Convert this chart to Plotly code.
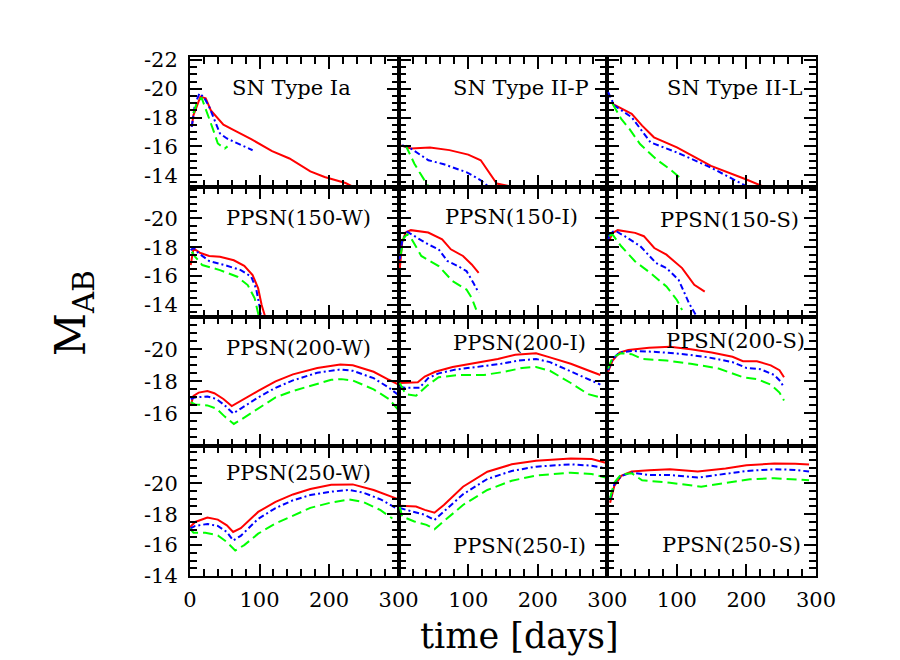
import plotly.graph_objects as go
from plotly.subplots import make_subplots

# ---- light curves: days since explosion, AB magnitude ----
# SN Type Ia
ia_red_t = [2.5, 5, 15, 22.6, 30, 38, 48, 63, 88, 118, 143, 173, 193.5, 223.6, 238]
ia_red_m = [-17.36, -18.17, -19.45, -19.33, -18.5, -18.06, -17.5, -17.13, -16.5, -15.67, -15.16, -14.27, -13.88, -13.46, -13.11]
ia_blue_t = [2.5, 7, 13.6, 20, 27.6, 35, 43, 53, 68, 90]
ia_blue_m = [-17.36, -18.9, -19.68, -19.4, -18.75, -17.8, -16.9, -16.55, -16.2, -15.73]
ia_green_t = [5, 9, 16.6, 25, 33, 40, 50, 54]
ia_green_m = [-18.3, -18.9, -19.38, -18.3, -17.2, -16.2, -15.85, -16.0]

# SN Type II-P
iip_red_t = [2.5, 17.6, 45, 73, 100, 118, 141, 163]
iip_red_m = [-16.07, -15.85, -15.92, -15.74, -15.43, -15.04, -13.42, -13.2]
iip_blue_t = [5, 17.6, 42.7, 65, 98, 118, 130]
iip_blue_m = [-16.08, -15.85, -15.04, -14.76, -14.2, -13.65, -13.18]
iip_green_t = [10, 22.6, 30, 40, 43]
iip_green_m = [-16.08, -14.8, -14.2, -13.5, -13.2]

# SN Type II-L
iil_red_t = [7.5, 35, 50, 67, 100, 149, 199, 234]
iil_red_m = [-18.95, -18.26, -17.44, -16.63, -15.93, -14.65, -13.72, -13.02]
iil_blue_t = [1, 10, 35, 62, 100, 149, 199, 208]
iil_blue_m = [-19.77, -18.84, -18.02, -16.28, -15.58, -14.53, -13.26, -13.02]
iil_green_t = [7.5, 20, 32, 47, 70, 90, 107]
iil_green_m = [-18.95, -17.9, -17.2, -16.16, -15.12, -14.42, -13.72]

# PPSN(150-W)
w150_red_t = [1, 5, 15, 27.6, 43, 63, 78, 90, 98, 103, 108]
w150_red_m = [-16.77, -17.92, -17.6, -17.4, -17.34, -17.1, -16.72, -16.07, -15.15, -14.0, -13.2]
w150_blue_t = [1, 5, 12.6, 27.6, 53, 73, 88, 95, 100.5, 102]
w150_blue_m = [-17.8, -17.97, -17.58, -17.05, -16.72, -16.42, -15.96, -15.15, -13.77, -13.2]
w150_green_t = [2.5, 7.5, 17.6, 43, 68, 83, 93, 98, 99]
w150_green_m = [-17.7, -17.34, -16.77, -16.42, -15.96, -15.38, -14.46, -13.53, -13.2]

# PPSN(150-I)
i150_red_t = [1.5, 5, 10, 17.5, 42.5, 62.5, 75, 92.5, 105, 115]
i150_red_m = [-16.47, -18.33, -19.02, -19.19, -19.02, -18.56, -17.86, -17.4, -16.81, -16.23]
i150_blue_t = [1.5, 5, 12.5, 22.5, 42.5, 57.5, 70, 85, 97.5, 107.5, 115]
i150_blue_m = [-17.16, -18.44, -19.07, -18.79, -18.2, -17.86, -17.05, -16.7, -16.35, -15.53, -14.84]
i150_green_t = [2.5, 7.5, 12.5, 17.5, 32.5, 57.5, 77.5, 97.5, 105, 111.5]
i150_green_m = [-17.4, -18.67, -18.9, -18.67, -17.4, -16.7, -15.65, -15.07, -14.49, -13.67]

# PPSN(150-S)
s150_red_t = [2.5, 7.5, 15, 40, 52.5, 67.5, 85, 107.5, 125, 140]
s150_red_m = [-18.42, -19.0, -19.19, -19.0, -18.77, -17.95, -17.49, -16.56, -15.4, -14.93]
s150_blue_t = [1, 5, 12.5, 25, 47.5, 70, 85, 102.5, 117.5, 130]
s150_blue_m = [-18.53, -19.05, -19.12, -18.77, -18.07, -16.91, -16.56, -15.74, -14.12, -13.07]
s150_green_t = [2.5, 7.5, 20, 40, 62.5, 85, 100, 107.5]
s150_green_m = [-18.77, -18.88, -18.07, -17.02, -16.2, -15.28, -14.35, -13.65]

# PPSN(200-W)
w200_red_t = [1, 5, 12.5, 25, 35, 48, 60, 73, 98, 123, 148, 183, 216, 234, 264, 286, 300]
w200_red_m = [-16.5, -17.1, -17.3, -17.4, -17.26, -16.9, -16.46, -16.8, -17.4, -18.0, -18.44, -18.84, -19.06, -19.0, -18.6, -18.1, -17.8]
w200_blue_t = [1, 7.5, 25, 38, 50, 62, 73, 98, 123, 148, 183, 216, 234, 264, 286, 300]
w200_blue_m = [-16.9, -17.0, -17.06, -16.9, -16.5, -16.0, -16.3, -17.0, -17.6, -18.06, -18.54, -18.74, -18.66, -18.2, -17.6, -17.14]
w200_green_t = [1, 7.5, 25, 38, 50, 63, 73, 98, 123, 148, 183, 203, 218, 234, 264, 286, 300]
w200_green_m = [-16.7, -16.56, -16.5, -16.3, -15.8, -15.34, -15.6, -16.3, -17.0, -17.4, -17.86, -18.1, -18.14, -18.06, -17.5, -16.9, -16.2]

# PPSN(200-I)
i200_red_t = [1.5, 27.5, 37.5, 52.5, 77.5, 107.5, 142.5, 167.5, 197.5, 217.5, 247.5, 277.5, 290]
i200_red_m = [-17.9, -17.94, -18.3, -18.6, -18.9, -19.14, -19.4, -19.66, -19.76, -19.5, -19.1, -18.6, -18.4]
i200_blue_t = [1.5, 7.5, 30, 42.5, 57.5, 82.5, 112.5, 147.5, 172.5, 197.5, 217.5, 252.5, 277.5, 290]
i200_blue_m = [-17.7, -17.6, -17.6, -18.2, -18.5, -18.74, -18.9, -19.1, -19.3, -19.4, -19.2, -18.5, -18.0, -17.8]
i200_green_t = [1.5, 10, 25, 40, 57.5, 87.5, 122.5, 152.5, 177.5, 197.5, 217.5, 247.5, 272.5, 290]
i200_green_m = [-17.9, -17.2, -17.1, -17.7, -18.26, -18.4, -18.4, -18.6, -18.84, -18.9, -18.66, -17.9, -17.2, -17.0]

# PPSN(200-S)
s200_red_t = [1, 7.5, 17.5, 30, 60, 90, 120, 150, 180, 195, 215, 235, 247.5, 254]
s200_red_m = [-18.6, -19.3, -19.8, -19.96, -20.1, -20.16, -20.0, -19.8, -19.54, -19.26, -19.26, -19.0, -18.7, -18.26]
s200_blue_t = [1, 7.5, 17.5, 35, 70, 110, 145, 180, 200, 220, 240, 249, 254]
s200_blue_m = [-18.7, -19.4, -19.8, -19.9, -19.84, -19.7, -19.5, -19.2, -18.84, -18.76, -18.4, -18.0, -17.6]
s200_green_t = [1, 7.5, 20, 35, 50, 85, 120, 160, 195, 215, 235, 247.5, 254]
s200_green_m = [-18.8, -19.5, -19.76, -19.7, -19.4, -19.3, -19.1, -18.8, -18.26, -18.14, -17.8, -17.3, -16.8]

# PPSN(250-W)
w250_red_t = [0, 7.5, 25, 40, 53, 62, 73, 98, 123, 148, 173, 203, 234, 264, 300]
w250_red_m = [-17.17, -17.5, -17.78, -17.65, -17.28, -16.85, -17.1, -18.15, -18.8, -19.28, -19.63, -19.9, -19.93, -19.57, -18.96]
w250_blue_t = [0, 7.5, 25, 40, 53, 62, 73, 98, 123, 148, 173, 203, 229, 249, 274, 300]
w250_blue_m = [-17.07, -17.24, -17.37, -17.24, -16.85, -16.3, -16.6, -17.7, -18.4, -18.9, -19.24, -19.46, -19.57, -19.4, -18.96, -18.3]
w250_green_t = [0, 5, 22, 40, 53, 65, 78, 98, 123, 148, 173, 203, 229, 249, 274, 291]
w250_green_m = [-17.07, -16.8, -16.8, -16.63, -16.2, -15.65, -16.0, -16.74, -17.4, -17.93, -18.41, -18.76, -18.96, -18.8, -18.26, -17.72]

# PPSN(250-I)
i250_red_t = [1.5, 25, 37.5, 51.5, 65, 92.5, 127.5, 162.5, 197.5, 247.5, 277.5, 297.5]
i250_red_m = [-18.54, -18.5, -18.28, -18.1, -18.6, -19.78, -20.75, -21.23, -21.46, -21.6, -21.57, -21.33]
i250_blue_t = [1.5, 22.5, 37.5, 51.5, 65, 92.5, 127.5, 162.5, 197.5, 247.5, 277.5, 297.5]
i250_blue_m = [-18.4, -18.17, -17.96, -17.63, -18.17, -19.29, -20.28, -20.8, -21.08, -21.23, -21.14, -20.97]
i250_green_t = [1.5, 5, 22.5, 40, 51.5, 65, 92.5, 127.5, 162.5, 197.5, 247.5, 277.5, 297.5]
i250_green_m = [-18.5, -17.85, -17.53, -17.31, -17.03, -17.53, -18.6, -19.57, -20.17, -20.5, -20.69, -20.6, -20.37]

# PPSN(250-S)
s250_red_t = [4, 10, 20, 35, 60, 90, 130, 170, 200, 240, 270, 290]
s250_red_m = [-18.74, -19.83, -20.48, -20.76, -20.85, -20.91, -20.76, -20.96, -21.17, -21.28, -21.26, -21.22]
s250_blue_t = [4, 10, 20, 35, 60, 90, 130, 170, 200, 240, 270, 290]
s250_blue_m = [-18.96, -19.93, -20.48, -20.7, -20.54, -20.54, -20.37, -20.59, -20.8, -20.91, -20.87, -20.76]
s250_green_t = [4, 10, 20, 35, 50, 90, 135, 170, 205, 240, 270, 290]
s250_green_m = [-19.07, -20.04, -20.59, -20.65, -20.2, -20.04, -19.78, -20.0, -20.26, -20.33, -20.26, -20.2]

panel_names = [
    ["SN Type Ia", "SN Type II-P", "SN Type II-L"],
    ["PPSN(150-W)", "PPSN(150-I)", "PPSN(150-S)"],
    ["PPSN(200-W)", "PPSN(200-I)", "PPSN(200-S)"],
    ["PPSN(250-W)", "PPSN(250-I)", "PPSN(250-S)"],
]

curves = [
    [
        [(ia_red_t, ia_red_m), (ia_blue_t, ia_blue_m), (ia_green_t, ia_green_m)],
        [(iip_red_t, iip_red_m), (iip_blue_t, iip_blue_m), (iip_green_t, iip_green_m)],
        [(iil_red_t, iil_red_m), (iil_blue_t, iil_blue_m), (iil_green_t, iil_green_m)],
    ],
    [
        [(w150_red_t, w150_red_m), (w150_blue_t, w150_blue_m), (w150_green_t, w150_green_m)],
        [(i150_red_t, i150_red_m), (i150_blue_t, i150_blue_m), (i150_green_t, i150_green_m)],
        [(s150_red_t, s150_red_m), (s150_blue_t, s150_blue_m), (s150_green_t, s150_green_m)],
    ],
    [
        [(w200_red_t, w200_red_m), (w200_blue_t, w200_blue_m), (w200_green_t, w200_green_m)],
        [(i200_red_t, i200_red_m), (i200_blue_t, i200_blue_m), (i200_green_t, i200_green_m)],
        [(s200_red_t, s200_red_m), (s200_blue_t, s200_blue_m), (s200_green_t, s200_green_m)],
    ],
    [
        [(w250_red_t, w250_red_m), (w250_blue_t, w250_blue_m), (w250_green_t, w250_green_m)],
        [(i250_red_t, i250_red_m), (i250_blue_t, i250_blue_m), (i250_green_t, i250_green_m)],
        [(s250_red_t, s250_red_m), (s250_blue_t, s250_blue_m), (s250_green_t, s250_green_m)],
    ],
]

# y ranges per row (bottom, top) and labelled ticks
row_ranges = [(-13.2, -22.2), (-13.2, -22.2), (-13.95, -22.05), (-14.0, -22.4)]
row_ticks = [[-22, -20, -18, -16, -14], [-20, -18, -16, -14], [-20, -18, -16], [-20, -18, -16, -14]]
col_ticks = [[0, 100, 200, 300], [100, 200, 300], [100, 200, 300]]

# title centres in pixels
title_px = [
    [(283, 80), (513, 80), (727, 80)],
    [(290, 210), (503, 209), (721, 212)],
    [(290, 340), (511, 335), (727, 333)],
    [(290, 465), (511, 538), (723, 537)],
]

L, R, T, B = 182, 808, 49, 568

styles = [
    dict(color="#ff0000", width=2, dash="solid"),
    dict(color="#0000ff", width=2, dash="6px,3px,2px,3px"),
    dict(color="#00ff00", width=2, dash="10px,5px"),
]

fig = make_subplots(rows=4, cols=3, horizontal_spacing=0, vertical_spacing=0)

for r in range(4):
    for c in range(3):
        for (t, m), st in zip(curves[r][c], styles):
            fig.add_trace(go.Scatter(x=t, y=m, mode="lines", line=st,
                                     showlegend=False, hoverinfo="skip"),
                          row=r + 1, col=c + 1)

tick_font = dict(family="DejaVu Serif", size=21, color="black")

for r in range(4):
    for c in range(3):
        fig.update_xaxes(
            range=[0, 300], showline=True, linewidth=2, linecolor="black",
            mirror="allticks", ticks="inside", ticklen=12, tickwidth=2, tickcolor="black",
            tickvals=col_ticks[c], ticktext=[str(v) for v in col_ticks[c]],
            showticklabels=(r == 3), tickfont=tick_font, ticklabelstandoff=4,
            minor=dict(ticks="inside", dtick=20, ticklen=7, tickwidth=2, tickcolor="black"),
            showgrid=False, zeroline=False,
            row=r + 1, col=c + 1,
        )
        fig.update_yaxes(
            range=list(row_ranges[r]), showline=True, linewidth=2, linecolor="black",
            mirror="allticks", ticks="inside", ticklen=12, tickwidth=2, tickcolor="black",
            tickvals=row_ticks[r], ticktext=[str(v) for v in row_ticks[r]],
            showticklabels=(c == 0), tickfont=tick_font, ticklabelstandoff=6,
            minor=dict(ticks="inside", dtick=0.5, tick0=0, ticklen=7, tickwidth=2, tickcolor="black"),
            showgrid=False, zeroline=False,
            row=r + 1, col=c + 1,
        )

annotations = []
for r in range(4):
    for c in range(3):
        px, py = title_px[r][c]
        annotations.append(dict(
            text=panel_names[r][c], x=(px - L) / (R - L), y=(B - py) / (B - T),
            xref="paper", yref="paper", showarrow=False,
            xanchor="center", yanchor="middle",
            font=dict(family="DejaVu Serif", size=21, color="black"),
        ))

annotations.append(dict(
    text="time [days]", x=(511 - L) / (R - L), y=(B - 628) / (B - T),
    xref="paper", yref="paper", showarrow=False, xanchor="center", yanchor="middle",
    font=dict(family="DejaVu Serif", size=35, color="black"),
))
annotations.append(dict(
    text="M<sub>AB</sub>", x=(65 - L) / (R - L), y=(B - 305) / (B - T),
    xref="paper", yref="paper", showarrow=False, xanchor="center", yanchor="middle",
    textangle=-90,
    font=dict(family="DejaVu Serif", size=42, color="black"),
))

fig.update_layout(
    width=900, height=660,
    margin=dict(l=L, r=900 - R, t=T, b=660 - B),
    paper_bgcolor="white", plot_bgcolor="white",
    annotations=annotations,
)

fig.write_html("out.html")
